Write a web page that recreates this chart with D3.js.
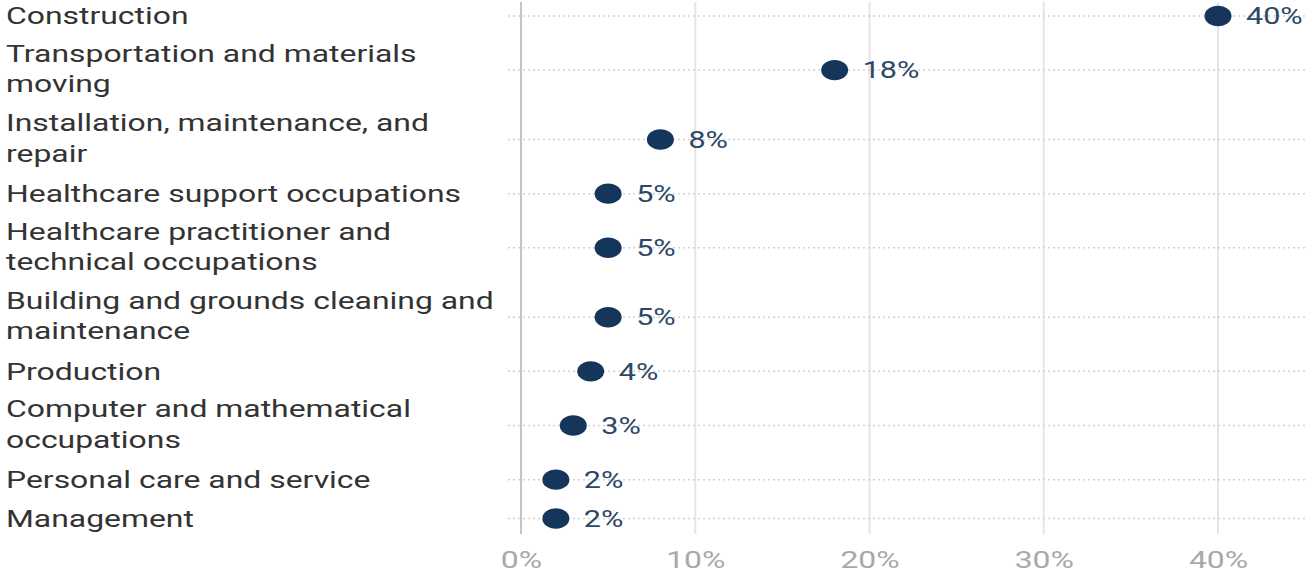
<!DOCTYPE html>
<html>
<head>
<meta charset="utf-8">
<script src="https://cdn.jsdelivr.net/npm/d3@7"></script>
<style>
  html, body { margin: 0; padding: 0; background: #fff; }
  svg { display: block; font-family: Roboto, "Noto Sans", sans-serif; }
</style>
</head>
<body>
<svg id="chart" width="1307" height="576"></svg>
<script>
// Share of workers by occupation group (%), wrapped labels split on "\n"
const categories = [
  "Construction",
  "Transportation and materials\nmoving",
  "Installation, maintenance, and\nrepair",
  "Healthcare support occupations",
  "Healthcare practitioner and\ntechnical occupations",
  "Building and grounds cleaning and\nmaintenance",
  "Production",
  "Computer and mathematical\noccupations",
  "Personal care and service",
  "Management"
];
const values = [40, 18, 8, 5, 5, 5, 4, 3, 2, 2];
const tickValues = [0, 10, 20, 30, 40];

const W = 1307, H = 576;
const SX = 1.33;          // horizontal stretch applied to all text
const lineH = 30.5;       // label line height
const rowPad = 8.4;       // extra height per row
const rowTop = -3.5;      // top of first row
const plotTop = 2, plotBottom = 534;
const gridLeft = 508;

const svg = d3.select("#chart");

// Row heights depend on how many lines each label takes
const labelLines = categories.map(c => c.split("\n"));
const rowHeights = labelLines.map(l => rowPad + l.length * lineH);
let acc = rowTop;
const rowCenters = rowHeights.map(h => { const c = acc + h / 2; acc += h; return c; });

const y = d3.scaleOrdinal(categories, rowCenters);
const x = d3.scaleLinear([0, 40], [521, 1218]);

const data = categories.map((c, i) => ({ cat: c, lines: labelLines[i], value: values[i] }));

// Vertical gridlines
svg.append("g")
  .selectAll("line")
  .data(tickValues)
  .join("line")
  .attr("x1", d => x(d)).attr("x2", d => x(d))
  .attr("y1", plotTop).attr("y2", plotBottom)
  .attr("stroke", d => d === 0 ? "#c4c4c4" : "#e6e6e6")
  .attr("stroke-width", 2);

// Dotted row guides
svg.append("g")
  .selectAll("line")
  .data(data)
  .join("line")
  .attr("x1", gridLeft).attr("x2", W)
  .attr("y1", d => y(d.cat)).attr("y2", d => y(d.cat))
  .attr("stroke", "#d2d2d2")
  .attr("stroke-width", 1.5)
  .attr("stroke-dasharray", "2,3");

// Bottom axis labels
const axis = svg.append("g")
  .attr("transform", `translate(0,${plotBottom})`)
  .call(d3.axisBottom(x).tickValues(tickValues).tickFormat(d => d + "%").tickSize(0).tickPadding(0));
axis.select(".domain").remove();
axis.selectAll("text")
  .attr("y", 0)
  .attr("dy", 0)
  .attr("transform", `translate(0,34) scale(${SX},1)`)
  .attr("font-family", "Roboto, sans-serif")
  .attr("font-size", 24)
  .attr("fill", "#a9a9a9");

// Dots
svg.append("g")
  .selectAll("ellipse")
  .data(data)
  .join("ellipse")
  .attr("cx", d => x(d.value))
  .attr("cy", d => y(d.cat))
  .attr("rx", 13.5)
  .attr("ry", 10.2)
  .attr("fill", "#15365a");

// Value labels
svg.append("g")
  .selectAll("text")
  .data(data)
  .join("text")
  .attr("transform", d => `translate(${x(d.value) + 28},${y(d.cat) + 8.2}) scale(${SX},1)`)
  .attr("font-size", 23)
  .attr("fill", "#2c4866")
  .text(d => d.value + "%");

// Category labels
const fs = 24;
const lab = svg.append("g")
  .selectAll("text")
  .data(data)
  .join("text")
  .attr("transform", d => {
    const n = d.lines.length;
    const firstBase = y(d.cat) - (n - 1) * lineH / 2 + fs * 0.355 - (n > 1 ? 1.5 : 0);
    return `translate(6,${firstBase}) scale(${SX},1)`;
  })
  .attr("font-size", fs)
  .attr("fill", "#333333");
lab.selectAll("tspan")
  .data(d => d.lines)
  .join("tspan")
  .attr("x", 0)
  .attr("dy", (d, i) => i === 0 ? 0 : lineH)
  .text(d => d);
</script>
</body>
</html>
